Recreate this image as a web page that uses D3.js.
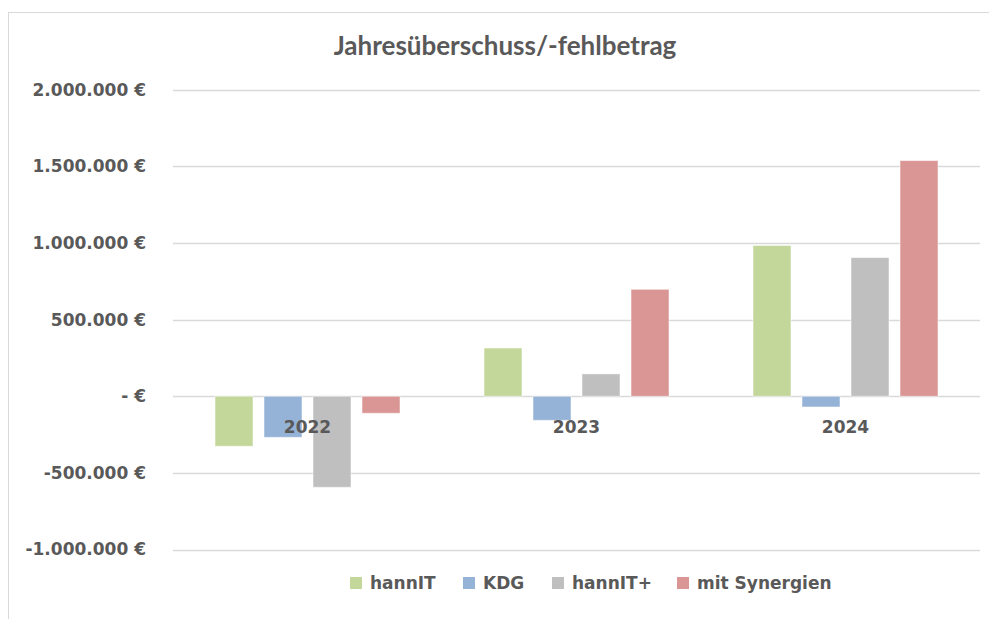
<!DOCTYPE html>
<html><head><meta charset="utf-8">
<script src="https://cdn.jsdelivr.net/npm/d3@7"></script>
<style>body{margin:0;background:#fff}svg{display:block}text{font-family:"DejaVu Sans",sans-serif;font-weight:bold;fill:#595959}</style>
</head><body>
<script>
const categories = ["2022","2023","2024"];
const seriesNames = ["hannIT","KDG","hannIT+","mit Synergien"];
const hannIT = [-326000, 315000, 984000];
const KDG = [-268000, -157000, -70000];
const hannITplus = [-594000, 146000, 905000];
const mitSynergien = [-111000, 698000, 1538000];
const colors = ["#c4d79b","#95b3d7","#bfbfbf","#da9694"];
const tickValues = [-1000000,-500000,0,500000,1000000,1500000,2000000];
const tickLabels = ["-1.000.000 €","-500.000 €","- €","500.000 €","1.000.000 €","1.500.000 €","2.000.000 €"];
const title = "Jahresüberschuss/-fehlbetrag";

const series = [hannIT, KDG, hannITplus, mitSynergien];
const W = 989, H = 619;
const svg = d3.select("body").append("svg").attr("width", W).attr("height", H);
svg.append("rect").attr("x",8.5).attr("y",12.5).attr("width",W+10).attr("height",H+10)
  .attr("fill","#fff").attr("stroke","#d9d9d9");

const x0 = d3.scaleBand().domain(categories).range([173, 980]).paddingInner(0).paddingOuter(0);
const y = d3.scaleLinear().domain([-1000000, 2000000]).range([549.5, 89.8]);
const x1 = d3.scaleBand().domain(seriesNames).range([42, x0.bandwidth()-42]).paddingInner(0.225).paddingOuter(0);

// gridlines
svg.append("g").selectAll("line").data(tickValues).join("line")
  .attr("x1",173).attr("x2",980).attr("y1",d=>Math.round(y(d))+0.5).attr("y2",d=>Math.round(y(d))+0.5)
  .attr("stroke","#d9d9d9").attr("stroke-width",1.5);

// y axis labels
const yAxis = d3.axisLeft(y).tickValues(tickValues).tickSize(0).tickPadding(0)
  .tickFormat((d,i)=>tickLabels[i]);
const gy = svg.append("g").attr("transform","translate(146,0)").call(yAxis);
gy.select(".domain").remove();
gy.selectAll("text").style("font-size","17px").attr("fill","#595959").style("font-family","'DejaVu Sans',sans-serif").style("font-weight","bold");

// bars
const g = svg.append("g");
categories.forEach((c,ci)=>{
  seriesNames.forEach((s,si)=>{
    const v = series[si][ci];
    g.append("rect")
      .attr("x", x0(c)+x1(s)).attr("width", x1.bandwidth())
      .attr("y", y(Math.max(0,v))).attr("height", Math.abs(y(v)-y(0)))
      .attr("fill", colors[si]).attr("stroke","#fff").attr("stroke-opacity",0.5).attr("stroke-width",1);
  });
});

// category labels
const xAxis = d3.axisBottom(x0).tickSize(0).tickPadding(0);
const gx = svg.append("g").attr("transform",`translate(0,${y(0)})`).call(xAxis);
gx.select(".domain").remove();
gx.selectAll("text").attr("dy","2.15em").style("font-size","17px").attr("fill","#595959").style("font-family","'DejaVu Sans',sans-serif").style("font-weight","bold");

// title
svg.append("text").attr("x",505).attr("y",55).attr("text-anchor","middle")
  .style("font-family","Lato,sans-serif").style("font-size","26px").text(title);

// legend
const legendX = [350, 463, 552, 677];
const lg = svg.append("g");
seriesNames.forEach((s,i)=>{
  lg.append("rect").attr("x",legendX[i]).attr("y",577).attr("width",12).attr("height",12).attr("fill",colors[i]);
  lg.append("text").attr("x",legendX[i]+20).attr("y",589).style("font-size","17px").text(s);
});
</script>
</body></html>
